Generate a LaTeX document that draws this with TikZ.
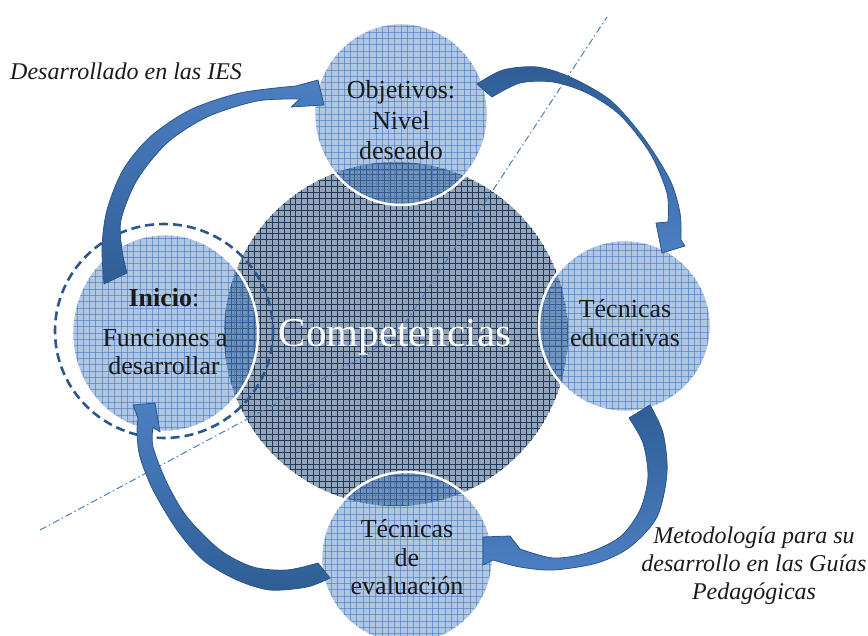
\documentclass[tikz,border=0pt]{standalone}
\usepackage{fontspec}
\setmainfont{Liberation Serif}
\definecolor{bigfill}{RGB}{150,164,184}
\definecolor{biggrid}{RGB}{30,58,95}
\definecolor{smallblue}{RGB}{79,129,189}
\definecolor{smallgrid}{RGB}{60,115,195}
\definecolor{arrowdark}{RGB}{47,94,150}
\definecolor{arrowlight}{RGB}{76,127,194}
\definecolor{arrowedge}{RGB}{44,86,138}
\definecolor{ringblue}{RGB}{44,86,140}
\definecolor{lineblue}{RGB}{74,126,198}
\definecolor{textdark}{RGB}{26,26,26}
\tikzset{
  circtext/.style={font=\fontsize{26}{30}\selectfont, text=textdark, inner sep=0pt, anchor=base},
  note/.style={font=\fontsize{24}{28}\selectfont\itshape, text=textdark, inner sep=0pt, anchor=base},
  blockarrow/.style={draw=arrowedge, line width=0.8pt, line join=round},
  smallgridline/.style={smallgrid, draw opacity=0.55, line width=0.55pt},
  biggridline/.style={biggrid, line width=0.55pt},
}
\newcommand{\mysmallcirc}[4]{%
  \begin{scope}
    \clip (#1,#2) ellipse [x radius=#3, y radius=#4];
    \fill[smallblue, fill opacity=0.45] (#1,#2) ellipse [x radius=#3, y radius=#4];
    \foreach \k in {-18,...,18} {
      \draw[smallgridline] (#1+\k*6.3,#2-115) -- (#1+\k*6.3,#2+115);
      \draw[smallgridline] (#1-115,#2+\k*6.3) -- (#1+115,#2+\k*6.3);
    }
  \end{scope}
  \draw[white, line width=2.5pt] (#1,#2) ellipse [x radius=#3, y radius=#4];
}
\begin{document}
\begin{tikzpicture}[x=1pt,y=-1pt]
\useasboundingbox (0,0) rectangle (868,636);
\clip (0,0) rectangle (868,636);

% big circle
\begin{scope}
  \clip (396,334) circle (172);
  \fill[bigfill] (396,334) circle (172);
  \foreach \k in {-30,...,30} {
    \draw[biggridline] (396+\k*5.9,160) -- (396+\k*5.9,508);
    \draw[biggridline] (222,334+\k*5.9) -- (570,334+\k*5.9);
  }
\end{scope}

% small circles
\mysmallcirc{401}{114}{87}{91}
\mysmallcirc{625}{326}{86}{86}
\mysmallcirc{407}{558}{86}{86}
\mysmallcirc{165}{333}{93}{99}

% dash-dot curve
\draw[lineblue, line width=1pt, dash pattern=on 7pt off 3pt on 1.5pt off 3pt]
  (40,530) -- (350,364) .. controls (380,348) and (400,331) .. (412,313) -- (607,17);

% dashed ring around Inicio
\draw[ringblue, line width=2.6pt, dash pattern=on 9pt off 5pt] (164,331) ellipse [x radius=109, y radius=107];

% arrows
\shadedraw[blockarrow, top color=arrowlight, bottom color=arrowdark]
  plot[smooth] coordinates {(104,284) (102,247) (107,210) (123,170) (150,137) (190,110) (240,93) (296,86)}
  -- (318,80) -- (324,105) -- (291,107)
  -- plot[smooth] coordinates {(300,99) (257,101) (207,117) (167,143) (137,180) (121,220) (122,250) (127,273)}
  -- cycle;
\shadedraw[blockarrow, top color=arrowdark, bottom color=arrowlight]
  plot[smooth] coordinates {(477,84) (503,70) (537,67) (570,77) (610,100) (643,137) (670,180) (680,213) (681,240)}
  -- (685,246) -- (662,253) -- (656,223)
  -- plot[smooth] coordinates {(668,222) (667,193) (650,153) (620,115) (587,93) (553,82) (520,83) (492,97)}
  -- cycle;
\shadedraw[blockarrow, top color=arrowdark, bottom color=arrowlight]
  plot[smooth] coordinates {(650,405) (663,433) (667,473) (657,517) (630,547) (597,563) (553,570) (520,567) (493,560)}
  -- (483,565) -- (483,537) -- (510,536)
  -- plot[smooth] coordinates {(520,549) (553,558) (587,553) (620,537) (640,510) (648,477) (643,443) (629,418)}
  -- cycle;
\shadedraw[blockarrow, top color=arrowlight, bottom color=arrowdark]
  plot[smooth] coordinates {(330,578) (307,587) (270,590) (237,580) (203,560) (177,530) (153,490) (140,457) (137,433) (138,418)}
  -- (133,405) -- (155,403) -- (160,432)
  -- plot[smooth] coordinates {(153,427) (153,447) (167,483) (187,517) (220,550) (253,567) (287,570) (318,563)}
  -- cycle;

% texts
\node[font=\fontsize{41}{48}\selectfont, text=white, anchor=base, inner sep=0pt] (comp) at (395,347) {Competencias};
\node[circtext] (obj1) at (401,99) {Objetivos:};
\node[circtext] (obj2) at (401,130) {Nivel};
\node[circtext] (obj3) at (401,160) {deseado};
\node[circtext] (edu1) at (625,318) {Técnicas};
\node[circtext] (edu2) at (625,347) {educativas};
\node[circtext] (eva1) at (407,537) {Técnicas};
\node[circtext] (eva2) at (407,566) {de};
\node[circtext] (eva3) at (407,594) {evaluación};
\node[circtext] (ini1) at (164,307) {\textbf{Inicio}:};
\node[circtext] (ini2) at (165,347) {Funciones a};
\node[circtext] (ini3) at (164,374) {desarrollar};
\node[note, anchor=base west] (ies) at (10,80) {Desarrollado en las IES};
\node[note] (met1) at (754,543) {Metodología para su};
\node[note] (met2) at (754,571) {desarrollo en las Guías};
\node[note] (met3) at (754,599) {Pedagógicas};
\end{tikzpicture}
\end{document}
